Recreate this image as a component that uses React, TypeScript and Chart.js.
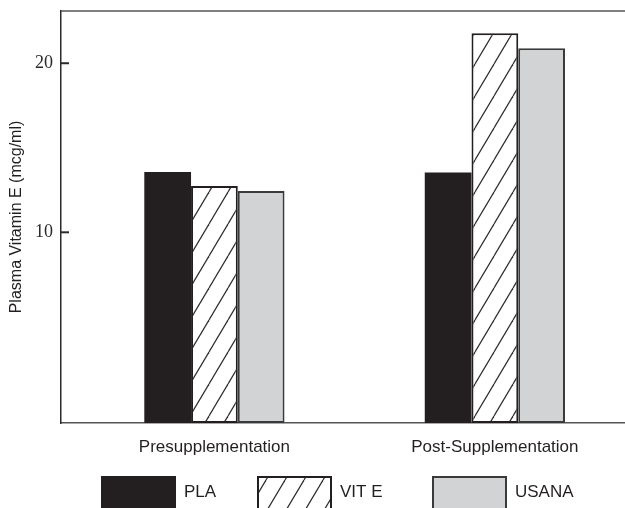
import React, { useEffect, useRef } from 'react';
import { Chart, registerables } from 'chart.js';

Chart.register(...registerables);

const categories = ['Presupplementation', 'Post-Supplementation'];
const seriesNames = ['PLA', 'VIT E', 'USANA'];
const plaValues = [13.57, 13.54];
const vitEValues = [12.74, 21.78];
const usanaValues = [12.44, 20.89];
const yTickValues = [10, 20];
const yAxisTitle = 'Plasma Vitamin E (mcg/ml)';

const SANS = "'Liberation Sans', Arial, Helvetica, sans-serif";
const SERIF = "'Liberation Serif', 'Times New Roman', serif";

const CANVAS_W = 664;
const CANVAS_H = 508;

function makeHatch(): CanvasPattern | string {
  const w = 19;
  const h = 32;
  const c = document.createElement('canvas');
  c.width = w;
  c.height = h;
  const g = c.getContext('2d');
  if (!g) return '#ffffff';
  g.fillStyle = '#ffffff';
  g.fillRect(0, 0, w, h);
  g.strokeStyle = '#2a2a2a';
  g.lineWidth = 1.2;
  for (let k = -1; k <= 1; k++) {
    g.beginPath();
    g.moveTo(k * w, h);
    g.lineTo(k * w + w, 0);
    g.stroke();
  }
  const p = g.createPattern(c, 'repeat');
  return p || '#ffffff';
}

const framePlugin = {
  id: 'frameAndLegend',
  afterDraw(chart: any) {
    const { ctx, chartArea, scales } = chart;
    ctx.save();
    // top frame line
    ctx.strokeStyle = '#555555';
    ctx.lineWidth = 1.5;
    ctx.beginPath();
    ctx.moveTo(chartArea.left, chartArea.top);
    ctx.lineTo(chartArea.right, chartArea.top);
    ctx.stroke();
    // inward y ticks
    ctx.strokeStyle = '#2a2a2a';
    ctx.lineWidth = 2;
    yTickValues.forEach((v) => {
      const y = scales.y.getPixelForValue(v);
      ctx.beginPath();
      ctx.moveTo(chartArea.left, y);
      ctx.lineTo(chartArea.left + 8, y);
      ctx.stroke();
    });
    // legend
    const boxX = [101, 257, 432];
    const boxTop = 476;
    const boxW = 75;
    const boxH = 44;
    chart.data.datasets.forEach((ds: any, i: number) => {
      const x = boxX[i];
      ctx.fillStyle = ds.backgroundColor;
      ctx.fillRect(x, boxTop, boxW, boxH);
      if (ds.borderWidth > 0) {
        ctx.strokeStyle = ds.borderColor;
        ctx.lineWidth = 2;
        ctx.strokeRect(x + 1, boxTop + 1, boxW - 2, boxH - 2);
      }
      ctx.fillStyle = '#231f20';
      ctx.font = `17px ${SANS}`;
      ctx.textBaseline = 'middle';
      ctx.textAlign = 'left';
      ctx.fillText(ds.label, x + boxW + 8, 492);
    });
    ctx.restore();
  },
};

export default function App() {
  const ref = useRef<HTMLCanvasElement | null>(null);

  useEffect(() => {
    if (!ref.current) return;
    const hatch = makeHatch();
    const xMin = -0.547;
    const xMax = 1.603;
    const chart = new Chart(ref.current, {
      type: 'bar',
      data: {
        datasets: [
          {
            label: seriesNames[0],
            data: categories.map((_, i) => ({ x: i, y: plaValues[i] })),
            backgroundColor: '#231f20',
            borderColor: '#231f20',
            borderWidth: 0,
          },
          {
            label: seriesNames[1],
            data: categories.map((_, i) => ({ x: i, y: vitEValues[i] })),
            backgroundColor: hatch as any,
            borderColor: '#231f20',
            borderWidth: 2,
          },
          {
            label: seriesNames[2],
            data: categories.map((_, i) => ({ x: i, y: usanaValues[i] })),
            backgroundColor: '#d2d3d5',
            borderColor: '#3a3a3a',
            borderWidth: 2,
          },
        ] as any,
      },
      options: {
        animation: false,
        responsive: false,
        maintainAspectRatio: false,
        layout: { padding: { top: 11, left: 0, right: 0, bottom: 0 } },
        datasets: {
          bar: {
            categoryPercentage: 0.5,
            barPercentage: 1,
            base: -1.28,
            borderSkipped: false,
          } as any,
        },
        plugins: {
          legend: { display: false },
          tooltip: { enabled: false },
          title: { display: false },
        },
        scales: {
          x: {
            type: 'linear',
            min: xMin,
            max: xMax,
            offset: false,
            afterBuildTicks: (s: any) => {
              s.ticks = categories.map((_, i) => ({ value: i }));
            },
            afterFit: (s: any) => {
              s.height = CANVAS_H - 423;
              s.paddingLeft = 0;
              s.paddingRight = 0;
            },
            grid: { display: false, drawTicks: false, offset: false },
            border: { display: true, color: '#555555', width: 1.5 },
            ticks: {
              autoSkip: false,
              maxRotation: 0,
              padding: 14,
              color: '#231f20',
              font: { family: SANS, size: 17 },
              callback: (v: any) => categories[Number(v)] ?? '',
            },
          },
          y: {
            type: 'linear',
            min: -1.28,
            max: 23.09,
            afterBuildTicks: (s: any) => {
              s.ticks = yTickValues.map((v) => ({ value: v }));
            },
            afterFit: (s: any) => {
              s.width = 61;
              s.paddingTop = 0;
              s.paddingBottom = 0;
            },
            grid: { display: false, drawTicks: false },
            border: { display: true, color: '#2a2a2a', width: 1.5 },
            ticks: {
              padding: 8,
              color: '#2a2a2a',
              font: { family: SERIF, size: 18 },
            },
            title: {
              display: true,
              text: yAxisTitle,
              color: '#231f20',
              font: { family: SANS, size: 16 },
              padding: { top: 7, bottom: 0 },
            },
          },
        },
      },
      plugins: [framePlugin],
    });
    return () => chart.destroy();
  }, []);

  return (
    <div
      style={{
        position: 'fixed',
        left: 0,
        top: 0,
        width: 625,
        height: CANVAS_H,
        overflow: 'hidden',
        background: '#ffffff',
      }}
    >
      <canvas
        ref={ref}
        width={CANVAS_W}
        height={CANVAS_H}
        style={{ display: 'block', width: CANVAS_W, height: CANVAS_H }}
      />
    </div>
  );
}
